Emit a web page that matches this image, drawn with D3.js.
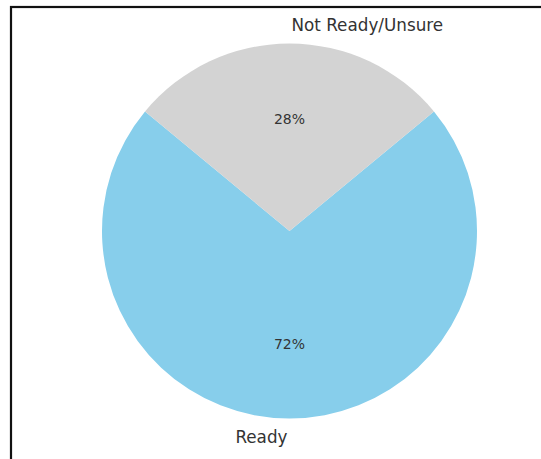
<!DOCTYPE html>
<html><head><meta charset="utf-8">
<script src="https://cdn.jsdelivr.net/npm/d3@7"></script>
<style>body{margin:0;background:#fff}svg{display:block}</style>
</head><body>
<svg id="c" width="541" height="459"></svg>
<script>
const categories = ["Ready", "Not Ready/Unsure"];
const values = [72, 28];
const colors = ["#87CEEB", "#D3D3D3"];
const pctLabels = ["72%", "28%"];

const W = 541, H = 459;
const cx = 289.5, cy = 231, R = 187.5;
const svg = d3.select("#c");
svg.append("rect").attr("width", W).attr("height", H).attr("fill", "#fff");
// frame
svg.append("rect").attr("x", 11).attr("y", 7).attr("width", W + 20).attr("height", H + 20)
  .attr("fill", "none").attr("stroke", "#111").attr("stroke-width", 2.2);

const total = d3.sum(values);
const grayFrac = values[1] / total;
const start = Math.PI * grayFrac; // Ready begins where gray ends (gray centred at top)
const pie = d3.pie().sort(null).value(d => d)
  .startAngle(start).endAngle(start + 2 * Math.PI);
const arcs = pie(values);
const arc = d3.arc().innerRadius(0).outerRadius(R);
const g = svg.append("g").attr("transform", `translate(${cx},${cy})`);
g.selectAll("path").data(arcs).enter().append("path")
  .attr("d", arc).attr("fill", (d, i) => colors[i]);

const font = "DejaVu Sans, sans-serif";
arcs.forEach((d, i) => {
  const mid = (d.startAngle + d.endAngle) / 2;
  const sx = Math.sin(mid), sy = -Math.cos(mid);
  const lr = R * 1.1, pr = R * 0.6;
  const anchor = Math.abs(sx) < 1e-6 ? (sy < 0 ? "start" : "end") : (sx > 0 ? "start" : "end");
  g.append("text").attr("x", sx * lr + (anchor === "start" ? 2 : -2)).attr("y", sy * lr)
    .attr("text-anchor", anchor).attr("dominant-baseline", "central")
    .attr("font-family", font).attr("font-size", 16.8).attr("fill", "#333")
    .text(categories[i]);
  g.append("text").attr("x", sx * pr).attr("y", sy * pr)
    .attr("text-anchor", "middle").attr("dominant-baseline", "central")
    .attr("font-family", font).attr("font-size", 14).attr("fill", "#333")
    .text(pctLabels[i]);
});
</script>
</body></html>
